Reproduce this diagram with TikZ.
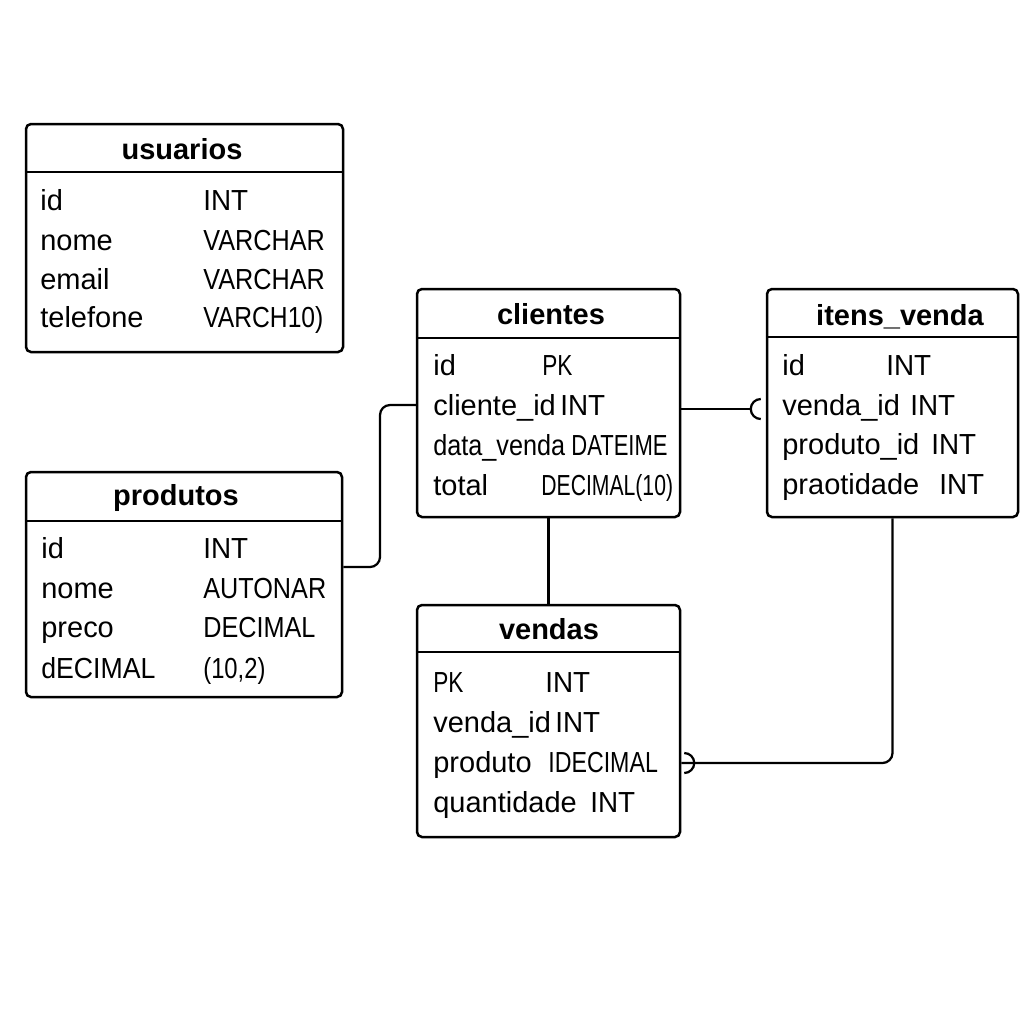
\documentclass[tikz,border=0pt]{standalone}
\usepackage{graphicx}
\usepackage{fontspec}
\setmainfont{Liberation Sans}
\usetikzlibrary{fit}
\tikzset{
  tbl/.style={draw, line width=0.5mm, rounded corners=1mm, inner sep=0pt},
  headline/.style={line width=0.5mm},
  title/.style={anchor=base, inner sep=0pt, font=\fontsize{16.5}{18}\selectfont\bfseries},
  field/.style={anchor=base west, inner sep=0pt, font=\fontsize{16.5}{18}\selectfont},
  link/.style={line width=0.45mm},
}
\begin{document}
\begin{tikzpicture}[x=0.2mm,y=-0.2mm]
	\useasboundingbox (0,0) rectangle (1024,1024);
	
	% usuarios
	\node[tbl, fit={(26,124) (343,352)}] (usuarios) {};
	\draw[headline] (usuarios.west |- 0,172) -- (usuarios.east |- 0,172);
	\node[title] (usuarios-t) at (182,159) {usuarios};
	\foreach \y/\a/\x/\b/\w in {210/id/203/INT/0.96, 250/nome/203/VARCHAR/0.87, 289/email/203/VARCHAR/0.87, 327/telefone/203/VARCH10)/0.85}{
		\node[field] (usuarios-a\y) at (40,\y) {\a};
		\node[field] (usuarios-b\y) at (\x,\y) {\scalebox{\w}[1]{\b}};
	}
	
	% produtos
	\node[tbl, fit={(26,472) (342,697)}] (produtos) {};
	\draw[headline] (produtos.west |- 0,521) -- (produtos.east |- 0,521);
	\node[title] (produtos-t) at (176,505) {produtos};
	\foreach \y/\a/\x/\b/\w in {558/id/203/INT/0.96, 598/nome/203/AUTONAR/0.87, 637/preco/203/DECIMAL/0.87, 678/\scalebox{0.92}[1]{dECIMAL}/203/{(10,2)}/0.82}{
		\node[field] (produtos-a\y) at (41,\y) {\a};
		\node[field] (produtos-b\y) at (\x,\y) {\scalebox{\w}[1]{\b}};
	}
	
	% clientes
	\node[tbl, fit={(417,289) (680,517)}] (clientes) {};
	\draw[headline] (clientes.west |- 0,338) -- (clientes.east |- 0,338);
	\node[title] (clientes-t) at (551,324) {clientes};
	\foreach \y/\a/\x/\b/\w in {375/id/542/PK/0.78, 415/cliente\_id/560/INT/0.96, 455/\scalebox{0.87}[1]{data\_venda}/571/DATEIME/0.76, 495/total/541/DECIMAL(10)/0.73}{
		\node[field] (clientes-a\y) at (433,\y) {\a};
		\node[field] (clientes-b\y) at (\x,\y) {\scalebox{\w}[1]{\b}};
	}
	
	% itens_venda
	\node[tbl, fit={(767,289) (1018,517)}] (itens) {};
	\draw[headline] (itens.west |- 0,337) -- (itens.east |- 0,337);
	\node[title] (itens-t) at (900,325) {itens\_venda};
	\foreach \y/\a/\x/\b/\w in {375/id/886/INT/0.96, 415/venda\_id/910/INT/0.96, 454/produto\_id/931/INT/0.96, 494/praotidade/939/INT/0.96}{
		\node[field] (itens-a\y) at (782,\y) {\a};
		\node[field] (itens-b\y) at (\x,\y) {\scalebox{\w}[1]{\b}};
	}
	
	% vendas
	\node[tbl, fit={(417,605) (680,837)}] (vendas) {};
	\draw[headline] (vendas.west |- 0,652) -- (vendas.east |- 0,652);
	\node[title] (vendas-t) at (549,639) {vendas};
	\foreach \y/\a/\x/\b/\w in {692/\scalebox{0.78}[1]{PK}/545/INT/0.96, 732/venda\_id/555/INT/0.96, 772/produto/548/IDECIMAL/0.8, 812/quantidade/590/INT/0.96}{
		\node[field] (vendas-a\y) at (433,\y) {\a};
		\node[field] (vendas-b\y) at (\x,\y) {\scalebox{\w}[1]{\b}};
	}
	
	% links
	\coordinate (pe) at (produtos.east |- 0,567);
	\coordinate (cw) at (clientes.west |- 0,405);
	\draw[link, rounded corners=2mm] (pe) -- (380,567) -- (380,405) -- (cw);
	
	\coordinate (ce) at (clientes.east |- 0,409);
	\coordinate (iw) at (itens.west |- 0,409);
	\draw[link] (ce) -- ([xshift=-3mm]iw);
	\draw[link] ([shift={(-1mm,2mm)}]iw) arc (90:270:2mm);
	
	\draw[link] (clientes.south) -- (vendas.north);
	
	\coordinate (ve) at (vendas.east |- 0,763);
	\draw[link, rounded corners=2mm] (itens.south) |- (ve);
	\draw[link] ([shift={(0.6mm,2mm)}]ve) arc (90:-90:2mm);
\end{tikzpicture}
\end{document}
